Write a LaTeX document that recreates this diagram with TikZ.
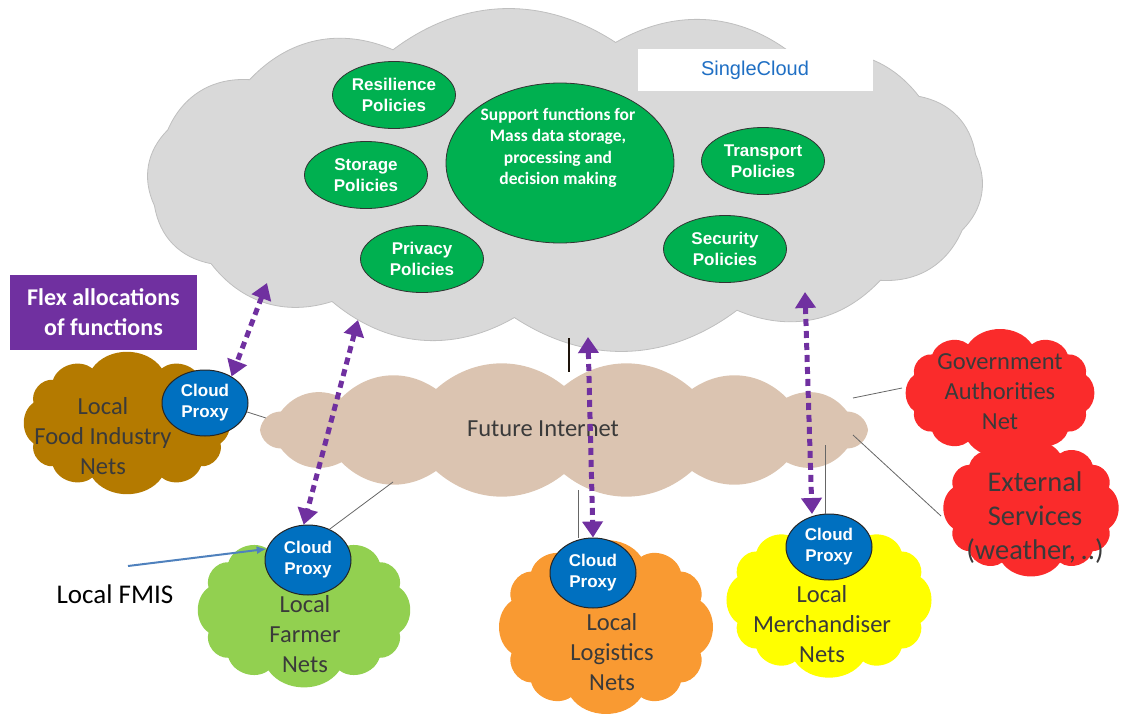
\documentclass[tikz,border=0pt]{standalone}
\usepackage{fontspec}
\setmainfont{Carlito}
\newfontfamily\arialf{Liberation Sans}
\usetikzlibrary{shapes.geometric,arrows.meta}
\definecolor{grayc}{HTML}{D9D9D9}
\definecolor{tanc}{HTML}{DBC4B1}
\definecolor{brownc}{HTML}{B47A00}
\definecolor{farmc}{HTML}{92D050}
\definecolor{orangec}{HTML}{F99A32}
\definecolor{yelc}{HTML}{FFFF00}
\definecolor{redc}{HTML}{FA2B2B}
\definecolor{pgreen}{HTML}{00B050}
\definecolor{pblue}{HTML}{0070C0}
\definecolor{purp}{HTML}{7030A0}
\definecolor{scblue}{HTML}{1F6FC4}
\definecolor{fmisc}{HTML}{4F81BD}
\definecolor{txtc}{HTML}{3A3A3A}
% #1 options, #2 cx, #3 cy, #4 a, #5 b, #6 puffs, #7 bend, #8 start angle, #9 exponent
\newcommand\cloudshape[9]{%
  \pgfmathsetmacro\cldsx{#4*cos(#8)*(abs(cos(#8))+0.001)^(#9-1)}%
  \pgfmathsetmacro\cldsy{#5*sin(#8)*(abs(sin(#8))+0.001)^(#9-1)}%
  \path[#1] ([shift={(#2,#3)}]\cldsx,\cldsy)
    \foreach \k [evaluate=\k as \px using {#4*cos(#8+\k*360/#6)*(abs(cos(#8+\k*360/#6))+0.001)^(#9-1)},
                 evaluate=\k as \py using {#5*sin(#8+\k*360/#6)*(abs(sin(#8+\k*360/#6))+0.001)^(#9-1)}]
      in {1,...,#6}{
      to[bend left=#7] ([shift={(#2,#3)}]\px,\py) } -- cycle;
}
\begin{document}
\begin{tikzpicture}[x=1pt,y=-1pt,
 pol/.style={ellipse, fill=pgreen, draw=black!80, line width=0.8pt, inner sep=0pt,
   minimum width=123pt, minimum height=67pt, text=white,
   font=\arialf\bfseries\fontsize{17}{21}\selectfont, align=center},
 proxy/.style={ellipse, fill=pblue, draw=black!85, line width=1pt, minimum width=86pt,
   minimum height=68pt, inner sep=0pt, text=white,
   font=\arialf\bfseries\fontsize{17}{21}\selectfont, align=center},
 nettxt/.style={text=txtc, font=\fontsize{24.5}{30}\selectfont, align=center},
 link/.style={draw=black!60, line width=0.8pt},
 flex/.style={draw=purp, line width=5pt, dash pattern=on 7pt off 5pt,
   {Triangle[width=20pt,length=16pt]}-{Triangle[width=20pt,length=16pt]}},
]
\useasboundingbox (0,0) rectangle (1128,720);

% coordinates
\coordinate (g1) at (569,338);
\coordinate (f1) at (569,372);
\coordinate (fiA) at (266,418);
\coordinate (fiB) at (393,482);
\coordinate (fiC) at (578,490);
\coordinate (fiD) at (825,445);
\coordinate (fiE) at (853,398);
\coordinate (fiF) at (853,435);
\coordinate (govw) at (902,388);
\coordinate (extw) at (941,516);
\coordinate (a1) at (267,283);
\coordinate (a2) at (358,320);
\coordinate (a3) at (588,337);
\coordinate (a4) at (805,292);
\coordinate (a4b) at (812,514);
\coordinate (fmisstart) at (128,566);

% big cloud
\cloudshape{fill=grayc, draw=black!25, line width=0.8pt}{565}{180}{414}{138}{14}{35}{-8}{0.85}
\node[fill=white, minimum width=235pt, minimum height=42pt, inner sep=0pt,
  text=scblue, font=\arialf\fontsize{20}{24}\selectfont] (sclabel) at (755,70) {SingleCloud};

\node[pol] (res) at (394,95) {Resilience\\Policies};
\node[pol] (sto) at (366,175) {Storage\\Policies};
\node[pol] (pri) at (422,259) {Privacy\\Policies};
\node[pol] (tra) at (763,161) {Transport\\Policies};
\node[pol] (sec) at (725,249) {Security\\Policies};
\node[ellipse, fill=pgreen, draw=black!80, line width=0.8pt, minimum width=228pt,
  minimum height=160pt, inner sep=0pt] (sup) at (560,163) {};
\node[text=white, font=\bfseries\fontsize{17.5}{21.5}\selectfont, align=center]
  (suptxt) at (558,148) {Support functions for\\Mass data storage,\\processing and\\decision making};

\draw[black!85!brown, line width=2.5pt] (g1) -- (f1);

% Future Internet
\cloudshape{fill=tanc}{564}{430}{304}{44}{16}{40}{0}{0.9}
\node[text=txtc, font=\fontsize{24.5}{28}\selectfont] (fitxt) at (543,429) {Future Internet};

% Flex box
\node[fill=purp, minimum width=187pt, minimum height=75pt, inner sep=0pt, text=white,
  font=\bfseries\fontsize{24}{30}\selectfont, align=center] (flexbox) at (103.5,312.5)
  {Flex allocations\\of functions};

% local clouds
\cloudshape{fill=brownc}{127}{423}{96}{56}{12}{55}{15}{0.75}
\node[nettxt] (foodtxt) at (103,436) {Local\\Food Industry\\Nets};
\cloudshape{fill=farmc}{304}{610}{98}{62}{12}{55}{15}{0.75}
\node[nettxt] (farmtxt) at (305,634) {Local\\Farmer\\Nets};
\cloudshape{fill=orangec}{606}{627}{97}{72}{12}{55}{15}{0.75}
\node[nettxt] (logitxt) at (612,652) {Local\\Logistics\\Nets};
\cloudshape{fill=yelc}{829}{600}{94}{63}{12}{55}{15}{0.75}
\node[nettxt] (merchtxt) at (822,624) {Local\\Merchandiser\\Nets};
\cloudshape{fill=redc}{1000}{393}{88}{50}{12}{55}{15}{0.75}
\node[nettxt] (govtxt) at (1000,392) {Government\\Authorities\\Net};
\cloudshape{fill=redc}{1031}{508}{80}{56}{12}{55}{15}{0.75}
\node[text=txtc, font=\fontsize{28.5}{34}\selectfont, align=center] (exttxt) at (1035,518)
  {External\\Services\\(weather,\,..)};

% connectors
\draw[link] (fiE) -- (govw);
\draw[link] (fiF) -- (extw);

% proxies
\node[proxy, minimum height=66pt] (pfood) at (205,403) {Cloud\\Proxy};
\node[proxy, minimum height=70pt] (pfarm) at (308,560) {Cloud\\Proxy};
\node[proxy, minimum height=70pt] (plogi) at (593,573) {Cloud\\Proxy};
\node[proxy, minimum height=66pt] (pmerch) at (829,547) {Cloud\\Proxy};

\draw[link] (pfood.-12) -- (fiA);
\draw[link] (pfarm.55) -- (fiB);
\draw[link] (fiC) -- (plogi.north -| fiC);
\draw[link] (fiD) -- (pmerch.north -| fiD);

% local FMIS
\node[text=black, font=\fontsize{27}{30}\selectfont] (fmis) at (115,594) {Local FMIS};
\draw[fmisc, line width=2pt, -{Latex[length=10pt,width=8pt]}] (fmisstart) -- (pfarm.165);

% flex arrows
\draw[flex] (a1) -- (pfood.45);
\draw[flex] (a2) -- (pfarm.97);
\draw[flex] (a3) -- (plogi.north);
\draw[flex] (a4) -- (a4b);
\end{tikzpicture}
\end{document}
